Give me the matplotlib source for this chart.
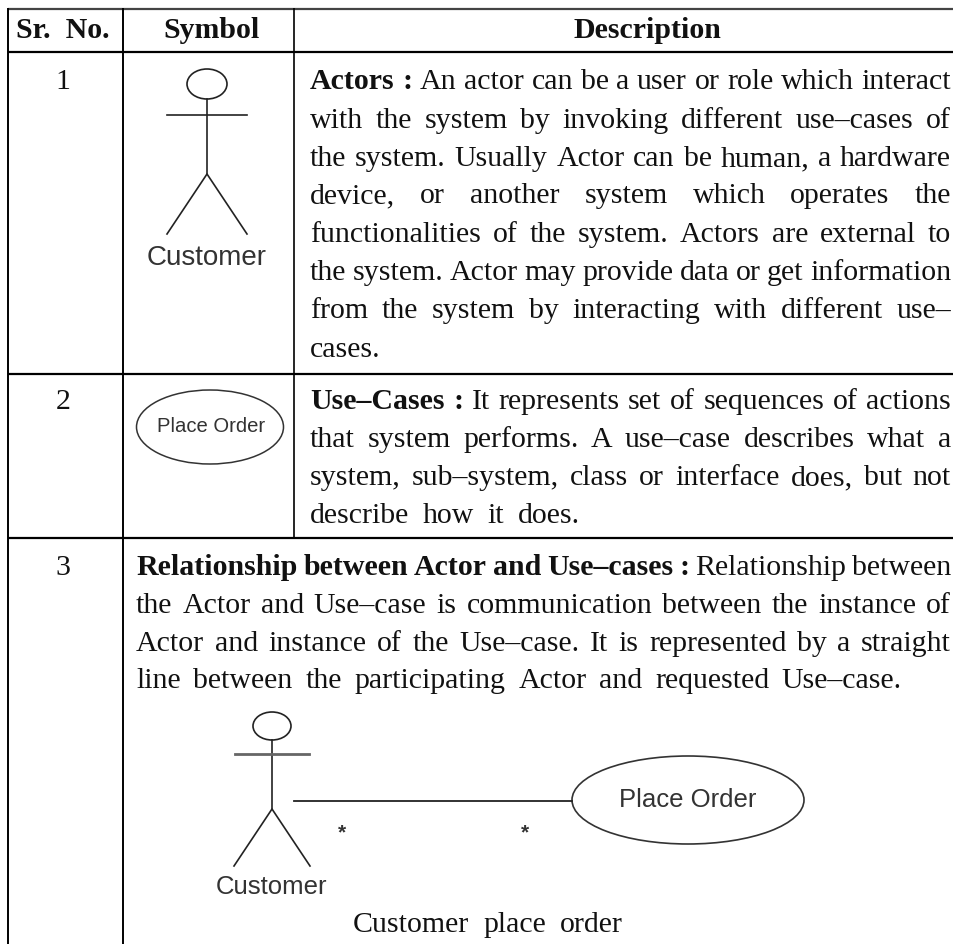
"""Rebuild the use-case symbol table with justified text lines."""
import matplotlib
matplotlib.use("Agg")
import matplotlib.pyplot as plt
from matplotlib.patches import Ellipse

SERIF = "Liberation Serif"
SANS = "Liberation Sans"
INK = "#111111"
_FS = 21.5  # body text size in points
_FS_HEAD = 21.5

HEADERS = ["Sr.  No.", "Symbol", "Description"]
ROW_NUMBERS = ["1", "2", "3"]

# each list holds the lines of one cell, as printed
ACTOR_LINES = [
    "Actors : An actor can be a user or role which interact",
    "with the system by invoking different use–cases of",
    "the system. Usually Actor can be human, a hardware",
    "device, or another system which operates the",
    "functionalities of the system. Actors are external to",
    "the system. Actor may provide data or get information",
    "from the system by interacting with different use–",
    "cases.",
]
USECASE_LINES = [
    "Use–Cases : It represents set of sequences of actions",
    "that system performs. A use–case describes what a",
    "system, sub–system, class or interface does, but not",
    "describe how it does.",
]
RELATION_LINES = [
    "Relationship between Actor and Use–cases : Relationship between",
    "the Actor and Use–case is communication between the instance of",
    "Actor and instance of the Use–case. It is represented by a straight",
    "line between the participating Actor and requested Use–case.",
]
CAPTION = "Customer place order"
ACTOR_NAME = "Customer"
USECASE_NAME = "Place Order"

fig, ax = plt.subplots(figsize=(9.54, 9.45), dpi=100)
fig.subplots_adjust(0, 0, 1, 1)
ax.set_xlim(0, 954)
ax.set_ylim(945, 0)
ax.axis("off")
renderer = fig.canvas.get_renderer()


def word_width(word, weight):
    t = ax.text(0, 0, word, family=SERIF, fontsize=_FS, fontweight=weight)
    w = t.get_window_extent(renderer).width
    t.remove()
    return w


def draw_line(line, y, x0, x1=None, n_bold=0):
    """Put words on a baseline; with x1 the gaps stretch to fill x0..x1."""
    words = line.split(" ")
    weights = ["bold" if i < n_bold else "normal" for i in range(len(words))]
    widths = [word_width(w, wt) for w, wt in zip(words, weights)]
    gap = 7.0
    if x1 is not None and len(words) > 1:
        gap = (x1 - x0 - sum(widths)) / (len(words) - 1)
    x = x0
    for w, wt, wd in zip(words, weights, widths):
        ax.text(x, y, w, family=SERIF, fontsize=_FS, fontweight=wt,
                color=INK, ha="left", va="baseline")
        x += wd + gap


def draw_actor(cx, head_y, head_w, head_h, neck_y, arm_y, arm_half, hip_y, foot_y, foot_half,
               arm_color="#222222", arm_lw=1.2):
    ax.add_patch(Ellipse((cx, head_y), head_w, head_h, fill=False, ec="#222222", lw=1.2))
    ax.plot([cx, cx], [neck_y, hip_y], color="#222222", lw=1.2)
    ax.plot([cx - arm_half, cx + arm_half], [arm_y, arm_y], color=arm_color, lw=arm_lw)
    ax.plot([cx - foot_half, cx, cx + foot_half], [foot_y, hip_y, foot_y], color="#222222", lw=1.2)


# --- Grid ---
ax.plot([8, 954], [10, 10], color="#444444", lw=1.6, solid_capstyle="butt")
for y in (53, 375, 539):
    ax.plot([8, 954], [y, y], color="black", lw=1.6, solid_capstyle="butt")
ax.plot([8, 8], [9, 945], color="black", lw=1.4, solid_capstyle="butt")
ax.plot([123, 123], [9, 945], color="black", lw=1.4, solid_capstyle="butt")
ax.plot([294, 294], [9, 539], color="black", lw=1.2, solid_capstyle="butt")

# --- Header ---
for label, x in zip(HEADERS, (63, 212, 647)):
    ax.text(x, 38, label, family=SERIF, fontsize=_FS_HEAD, fontweight="bold",
            color=INK, ha="center", va="baseline")

# --- Row numbers ---
for label, y in zip(ROW_NUMBERS, (89, 409, 575)):
    ax.text(63, y, label, family=SERIF, fontsize=_FS, color=INK, ha="center", va="baseline")

# --- Description text ---
for i, (line, y) in enumerate(zip(ACTOR_LINES, (89, 128, 166, 203, 242, 280, 318, 357))):
    draw_line(line, y, 310, 951 if i < 7 else None, n_bold=2 if i == 0 else 0)
for i, (line, y) in enumerate(zip(USECASE_LINES, (409, 447, 485, 523))):
    draw_line(line, y, 310, 951 if i < 3 else 580, n_bold=2 if i == 0 else 0)
for i, (line, y) in enumerate(zip(RELATION_LINES, (575, 613, 651, 688))):
    draw_line(line, y, 136, 951 if i < 3 else 902, n_bold=6 if i == 0 else 0)
draw_line(CAPTION, 932, 353, 623)

# --- Symbol column ---
draw_actor(207, 85, 40, 30, 100, 116, 40, 175, 235, 40)
ax.text(207, 265, ACTOR_NAME, family=SANS, fontsize=20, color="#333333",
        ha="center", va="baseline")
ax.add_patch(Ellipse((210, 428), 147, 74, fill=False, ec="#333333", lw=1.1))
ax.text(211, 427, USECASE_NAME, family=SANS, fontsize=14.6, color="#333333",
        ha="center", va="center")

# --- Relationship sketch ---
draw_actor(272, 727, 38, 28, 741, 755, 37, 810, 867, 38, arm_color="#666666", arm_lw=2.0)
ax.text(272, 894, ACTOR_NAME, family=SANS, fontsize=18.5, color="#333333",
        ha="center", va="baseline")
ax.plot([294, 572], [802, 802], color="#222222", lw=1.3)
ax.add_patch(Ellipse((688, 801), 232, 88, fill=False, ec="#333333", lw=1.2))
ax.text(688, 800, USECASE_NAME, family=SANS, fontsize=18.5, color="#333333",
        ha="center", va="center")
for x in (342, 525):
    ax.text(x, 833, "*", family=SANS, fontsize=15, fontweight="bold", color="#333333",
            ha="center", va="center")

fig.savefig("out.png", dpi=100)
